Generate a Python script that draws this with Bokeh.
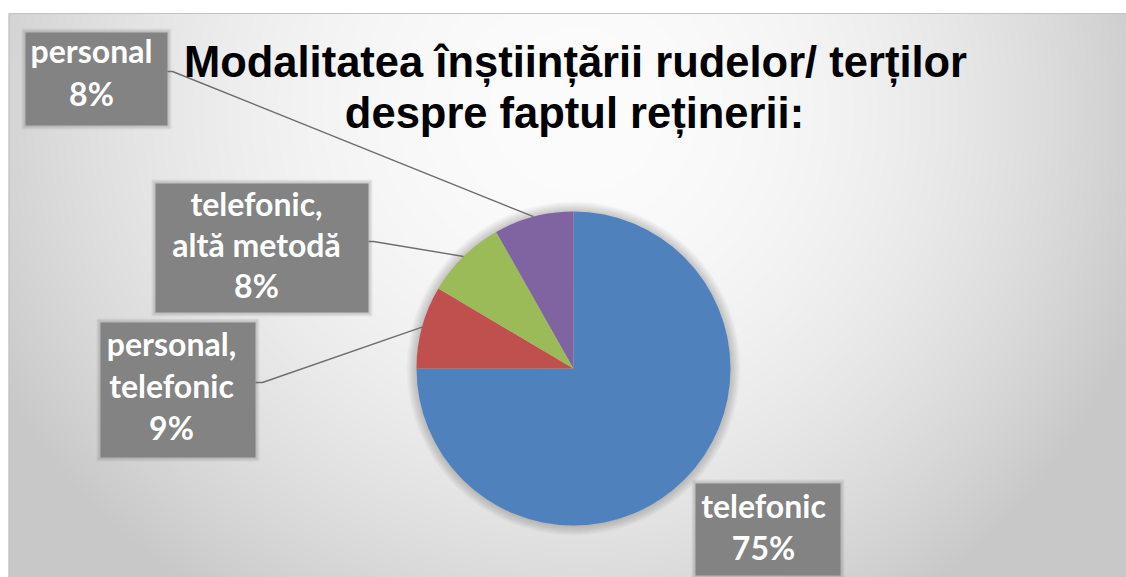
import numpy as np
from bokeh.plotting import figure
from bokeh.models import Range1d
from bokeh.embed import file_html
from bokeh.resources import INLINE
from bokeh.core.properties import value

# ---------------- data ----------------
title_lines = ["Modalitatea înștiințării rudelor/ terților", "despre faptul reținerii:"]
categories = ["telefonic", "personal, telefonic", "telefonic, altă metodă", "personal"]
shares = [75.0, 8.5, 8.3, 8.2]
pct_labels = ["75%", "9%", "8%", "8%"]
colors = ["#4F81BD", "#C0504D", "#9BBB59", "#8064A2"]

# ---------------- layout ----------------
W, H = 1126, 577
def X(sx):
    return sx
def Y(sy):
    return 577 - sy

p = figure(width=W, height=H, x_range=Range1d(0, W), y_range=Range1d(0, H),
           output_backend="svg", toolbar_location=None, min_border=0)
p.axis.visible = False
p.grid.visible = False
p.outline_line_color = None
p.background_fill_color = "white"
p.border_fill_color = "white"

# background radial gradient (chart area: screen x 8..1126, y 13..577)
CW, CH = 1118, 564
sx = 8 + np.arange(CW) + 0.5
sy = 577 - (np.arange(CH) + 0.5)
SX, SY = np.meshgrid(sx, sy)
rx = np.where(SX < 580, 620.0, 560.0)
d2 = ((SX - 580) / rx) ** 2 + ((SY - 110) / 560.0) ** 2
g = np.clip(252 - 46 * d2, 200, 252).astype(np.uint32)
img = ((255 << 24) | (g << 16) | (g << 8) | g).astype(np.uint32)
p.image_rgba(image=[img], x=8, y=0, dw=CW, dh=CH)
p.quad(left=[8.5], right=[W + 2], bottom=[-2], top=[CH], fill_color=None,
       line_color="#c2c2c2", line_width=1)

# ---------------- pie ----------------
cx, cy, R = X(573), Y(368), 157
for i in range(1, 11):
    p.circle(x=cx, y=cy, radius=R + i, fill_color="black", fill_alpha=0.018,
             line_color=None)

fr = np.array(shares) / sum(shares)
cum = np.concatenate([[0], np.cumsum(fr)])
start = np.pi / 2 - 2 * np.pi * cum[:-1]
end = np.pi / 2 - 2 * np.pi * cum[1:]
p.wedge(x=cx, y=cy, radius=R, start_angle=list(start), end_angle=list(end),
        direction="clock", fill_color=colors, line_color=None)
mid = (start + end) / 2

# ---------------- labels ----------------
LFS = 32
boxes = [(695, 483, 840, 575), (100, 322, 255, 457), (155, 183, 368, 312), (25, 32, 167, 125)]
text_x = [763, 171, 256, 91]
baselines = [[517, 559], [355, 397, 439], [215, 256, 297], [62, 105]]
elbows = [None, ((255, 382), (262, 382)), ((368, 241), (373, 241)), ((167, 71), (172, 71))]

for i, cat in enumerate(categories):
    l, t, r, b = boxes[i]
    if elbows[i] is not None:
        (x0, y0), (x1, y1) = elbows[i]
        ex = cx + R * np.cos(mid[i])
        ey = cy + R * np.sin(mid[i])
        p.line([X(x0), X(x1), ex], [Y(y0), Y(y1), ey], line_color="#6e6e6e", line_width=1.4)
    for k in range(1, 5):
        p.quad(left=[X(l) - k], right=[X(r) + k], top=[Y(t) + k], bottom=[Y(b) - k],
               fill_color="#707070", fill_alpha=0.09, line_color=None)
    p.quad(left=[X(l)], right=[X(r)], top=[Y(t)], bottom=[Y(b)],
           fill_color="#838383", line_color=None)
    parts = cat.split(", ")
    lines = [s + "," for s in parts[:-1]] + [parts[-1], pct_labels[i]]
    p.text(x=[X(text_x[i])] * len(lines), y=[Y(v) + 0.37 * LFS for v in baselines[i]], text=lines,
           text_font=value("Lato"), text_font_style="bold", text_font_size=f"{LFS}px",
           text_color="white", text_align="center", text_baseline="alphabetic")

# ---------------- title ----------------
TFS = 43.5
p.text(x=[X(575), X(574)], y=[Y(77) + 0.35 * TFS, Y(128) + 0.35 * TFS], text=title_lines,
       text_font=value("Liberation Sans"), text_font_style="bold", text_font_size=f"{TFS}px",
       text_color="black", text_align="center", text_baseline="alphabetic")

open("out.html", "w").write(file_html(p, INLINE))
